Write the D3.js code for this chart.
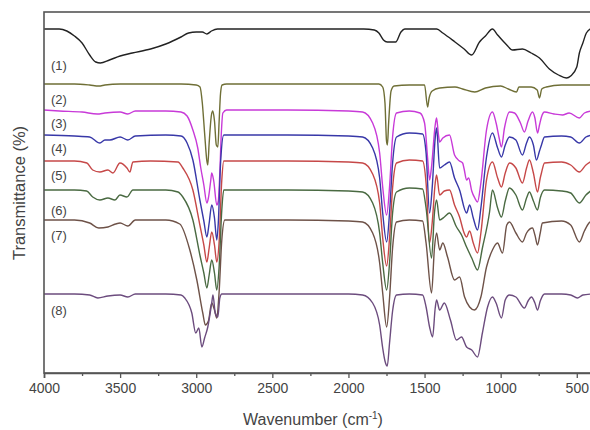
<!DOCTYPE html>
<html>
<head>
<meta charset="utf-8">
<script src="https://cdn.jsdelivr.net/npm/d3@7"></script>
<style>
  html, body { margin: 0; padding: 0; background: #fff; }
  svg { display: block; }
</style>
</head>
<body>
<svg id="chart" width="590" height="430"></svg>
<script>
// ---- Data (wavenumber cm^-1, transmittance in arbitrary offset units) ----
const seriesNames = ["(1)", "(2)", "(3)", "(4)", "(5)", "(6)", "(7)", "(8)"];
const seriesColors = ["#222222", "#6f6f36", "#c83ad8", "#3838a8", "#c64848", "#4a6a42", "#6e5248", "#6c4c7e"];
const xTicks = [4000, 3500, 3000, 2500, 2000, 1500, 1000, 500];
const xMinorTicks = [3750, 3250, 2750, 2250, 1750, 1250, 750];
const labelLevels = [308, 274, 250, 225, 198, 163, 138, 63];

const s1 = [[4000,344],[3900,344],[3850,342],[3800,337],[3750,330],[3700,318],[3660,311],[3630,310],[3570,313],[3500,317],[3420,320],[3300,324],[3200,329],[3100,336],[3050,340],[3000,341],[2960,341],[2930,339],[2900,342],[2860,344],[2600,344],[2200,344],[1900,344],[1830,343],[1800,340],[1770,333],[1745,331],[1690,331],[1655,341],[1630,344],[1420,344],[1380,340],[1300,331],[1240,324],[1191,318],[1139,331],[1100,337],[1054,344],[1020,338],[960,328],[922,323],[857,324],[800,320],[745,315],[680,304],[620,298],[568,295],[540,297],[500,306],[483,320],[460,330],[437,340],[400,345]];
const s2 = [[4000,289],[3800,289],[3700,288],[3640,287],[3600,288],[3500,289],[3100,289],[3000,288],[2975,286],[2960,270],[2945,240],[2930,212],[2924,208],[2915,230],[2900,258],[2891,262],[2880,252],[2868,228],[2858,226],[2850,250],[2840,280],[2830,288],[2800,289],[2000,289],[1800,289],[1775,286],[1760,270],[1750,232],[1744,228],[1736,250],[1720,282],[1700,287],[1600,288],[1500,288],[1480,266],[1470,275],[1450,282],[1400,285],[1300,286],[1250,284],[1170,281],[1100,285],[1000,287],[950,284],[896,281],[880,286],[800,286],[760,283],[745,275],[730,284],[700,286],[600,288],[400,288]];
const s3 = [[4000,263],[3900,262],[3750,261],[3650,259],[3600,260],[3500,261],[3450,259],[3400,262],[3200,262],[3100,261],[3060,257],[3022,243],[2990,225],[2970,205],[2950,188],[2930,170],[2920,175],[2905,192],[2898,200],[2885,192],[2865,168],[2855,172],[2845,200],[2835,240],[2825,260],[2800,263],[2400,263],[2000,262],[1907,261],[1841,250],[1795,220],[1775,186],[1749,158],[1730,186],[1710,236],[1684,260],[1600,262],[1530,260],[1500,250],[1480,215],[1467,193],[1455,205],[1430,248],[1421,255],[1410,240],[1401,231],[1380,235],[1336,238],[1303,218],[1270,212],[1250,210],[1240,204],[1224,193],[1210,195],[1190,182],[1170,175],[1152,171],[1130,190],[1093,243],[1054,261],[1030,250],[1010,235],[995,226],[975,245],[942,261],[909,260],[870,250],[844,241],[820,252],[791,261],[775,255],[758,240],[745,248],[732,256],[712,261],[650,259],[594,258],[550,260],[483,255],[450,260],[400,262]];
const s4 = [[4000,238],[3800,237],[3700,236],[3633,230],[3600,233],[3567,233],[3500,236],[3449,233],[3400,237],[3200,238],[3100,237],[3060,230],[3022,213],[2976,173],[2950,152],[2930,136],[2915,150],[2898,168],[2880,155],[2865,133],[2855,150],[2839,213],[2819,238],[2400,238],[2000,237],[1907,236],[1841,225],[1795,195],[1775,160],[1749,131],[1730,160],[1710,210],[1684,236],[1600,240],[1513,239],[1490,220],[1467,160],[1450,185],[1430,235],[1421,245],[1401,205],[1370,208],[1336,211],[1303,195],[1270,183],[1224,160],[1204,168],[1180,155],[1152,143],[1130,165],[1093,216],[1054,240],[1020,225],[995,216],[970,228],[942,236],[900,233],[857,218],[830,230],[811,236],[785,228],[765,213],[745,222],[732,228],[712,236],[600,237],[540,236],[483,230],[440,236],[400,238]];
const s5 = [[4000,212],[3800,212],[3718,210],[3680,203],[3633,201],[3580,203],[3547,200],[3501,210],[3455,205],[3436,201],[3416,211],[3300,212],[3120,211],[3088,205],[3022,183],[2976,148],[2950,128],[2930,111],[2915,125],[2898,141],[2880,128],[2865,111],[2850,130],[2832,193],[2819,212],[2400,212],[2000,211],[1907,210],[1841,199],[1795,170],[1775,135],[1749,107],[1730,135],[1710,185],[1684,210],[1600,213],[1513,212],[1490,190],[1467,130],[1450,150],[1430,190],[1421,198],[1401,178],[1370,182],[1336,183],[1303,168],[1270,156],[1240,140],[1224,136],[1204,142],[1180,130],[1152,120],[1130,140],[1093,193],[1054,211],[1020,195],[995,186],[970,200],[942,210],[900,205],[857,190],[830,205],[811,213],[785,200],[758,181],[740,195],[732,200],[712,210],[600,211],[540,208],[483,201],[440,208],[400,212]];
const s6 = [[4000,183],[3800,183],[3720,182],[3680,176],[3633,173],[3580,175],[3534,173],[3501,178],[3455,176],[3416,183],[3200,183],[3120,181],[3088,176],[3022,153],[2976,118],[2950,100],[2930,85],[2915,98],[2898,113],[2880,100],[2865,83],[2850,105],[2832,163],[2819,183],[2400,183],[2000,182],[1907,181],[1841,170],[1795,140],[1775,110],[1749,83],[1730,110],[1710,160],[1684,181],[1600,185],[1513,184],[1490,165],[1454,115],[1435,160],[1421,173],[1401,153],[1370,156],[1336,160],[1290,146],[1257,138],[1224,126],[1190,115],[1152,103],[1120,125],[1073,161],[1054,183],[1020,165],[995,156],[970,172],[942,185],[900,178],[857,163],[830,175],[811,181],[785,172],[758,163],[740,175],[712,183],[600,182],[540,180],[483,170],[440,178],[400,183]];
const s7 = [[4000,153],[3800,153],[3700,150],[3640,145],[3580,146],[3530,149],[3500,150],[3449,147],[3400,153],[3200,153],[3108,149],[3042,123],[2996,93],[2957,60],[2940,48],[2920,52],[2898,70],[2880,63],[2865,55],[2850,80],[2832,133],[2812,153],[2400,153],[2000,152],[1907,151],[1841,140],[1795,110],[1775,80],[1749,46],[1730,75],[1710,125],[1684,151],[1600,153],[1513,152],[1490,130],[1454,80],[1435,125],[1421,140],[1401,123],[1380,130],[1349,116],[1303,93],[1270,96],[1237,76],[1204,66],[1172,63],[1130,76],[1093,106],[1054,123],[1021,130],[988,120],[960,148],[942,151],[900,140],[857,131],[830,140],[791,145],[775,138],[758,128],[740,140],[726,150],[600,152],[540,148],[483,131],[450,142],[420,150],[400,152]];
const s8 = [[4000,79],[3800,79],[3700,78],[3646,75],[3580,77],[3500,78],[3449,76],[3400,79],[3200,79],[3100,78],[3075,75],[3029,60],[3003,40],[2983,45],[2963,26],[2945,35],[2924,46],[2898,70],[2890,78],[2875,60],[2858,56],[2845,75],[2832,79],[2400,79],[2000,79],[1907,78],[1841,70],[1795,48],[1775,25],[1760,12],[1745,7],[1730,30],[1710,62],[1684,78],[1600,79],[1513,78],[1490,66],[1467,46],[1447,36],[1430,65],[1421,73],[1401,63],[1370,70],[1330,53],[1290,33],[1257,36],[1224,26],[1190,23],[1152,16],[1120,40],[1086,66],[1054,76],[1030,70],[995,55],[970,73],[942,78],[900,76],[844,65],[820,72],[798,76],[775,70],[758,63],[740,72],[712,79],[600,79],[540,78],[496,75],[460,78],[400,79]];
const allSeries = [s1, s2, s3, s4, s5, s6, s7, s8];

// ---- Layout ----
const svg = d3.select("#chart");
const L = 44, R = 592, T = 12, B = 373;
const x = d3.scaleLinear().domain([4000, 400]).range([L, R]);
const y = d3.scaleLinear().domain([0, 361]).range([B, T]);

const line = d3.line()
  .x(d => x(d[0]))
  .y(d => y(d[1]))
  .curve(d3.curveMonotoneX);

svg.append("g").selectAll("path")
  .data(allSeries)
  .join("path")
  .attr("d", d => line(d))
  .attr("fill", "none")
  .attr("stroke", (d, i) => seriesColors[i])
  .attr("stroke-width", 1.4)
  .attr("stroke-linejoin", "round");

// Frame
svg.append("rect")
  .attr("x", L).attr("y", T)
  .attr("width", R - L).attr("height", B - T)
  .attr("fill", "none").attr("stroke", "#555").attr("stroke-width", 1.6);

// Axis
const axis = svg.append("g").attr("transform", `translate(0,${B})`)
  .call(d3.axisBottom(x).tickValues(xTicks).tickSize(5).tickPadding(5).tickFormat(d3.format("d")));
axis.select(".domain").attr("stroke", "#555").attr("stroke-width", 1.6);
axis.selectAll(".tick line").attr("stroke", "#555").attr("stroke-width", 1.3);
axis.selectAll(".tick text").attr("font-family", "Liberation Sans, Arial, sans-serif")
  .attr("font-size", 14).attr("fill", "#444");

const minor = svg.append("g").attr("transform", `translate(0,${B})`)
  .call(d3.axisBottom(x).tickValues(xMinorTicks).tickSize(3).tickFormat(""));
minor.select(".domain").remove();
minor.selectAll(".tick line").attr("stroke", "#555").attr("stroke-width", 1.3);

// Series labels
svg.append("g").selectAll("text")
  .data(seriesNames)
  .join("text")
  .attr("x", 51)
  .attr("y", (d, i) => y(labelLevels[i]))
  .attr("dy", "0.35em")
  .attr("font-family", "Liberation Sans, Arial, sans-serif")
  .attr("font-size", 13)
  .attr("fill", "#444")
  .text(d => d);

// Axis titles
svg.append("text")
  .attr("x", 313)
  .attr("y", 425)
  .attr("text-anchor", "middle")
  .attr("font-family", "Liberation Sans, Arial, sans-serif")
  .attr("font-size", 16)
  .attr("fill", "#444")
  .html("Wavenumber (cm<tspan dy='-6' font-size='10'>-1</tspan><tspan dy='6'>)</tspan>");

svg.append("text")
  .attr("transform", `translate(25,193) rotate(-90)`)
  .attr("text-anchor", "middle")
  .attr("font-family", "Liberation Sans, Arial, sans-serif")
  .attr("font-size", 16.5)
  .attr("fill", "#444")
  .text("Transmittance (%)");
</script>
</body>
</html>
